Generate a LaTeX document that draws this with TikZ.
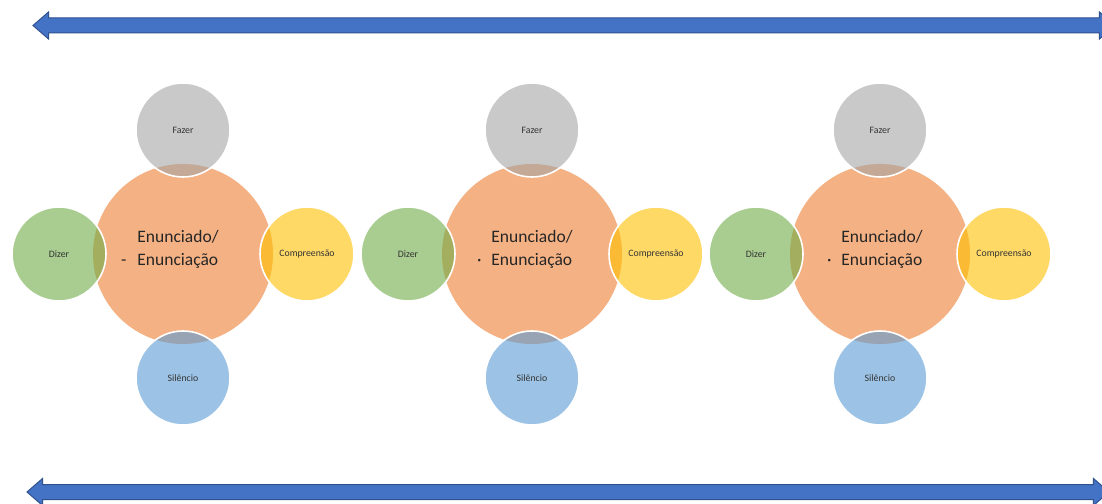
\documentclass[tikz,border=0pt]{standalone}
\usepackage{fontspec}
\setmainfont{Carlito}
\usepackage{tikz}
\usetikzlibrary{arrows.meta,shapes.arrows,positioning}
\definecolor{coreorange}{HTML}{F4B183}
\definecolor{fazergray}{HTML}{A5A5A5}
\definecolor{dizergreen}{HTML}{70AD47}
\definecolor{compyellow}{HTML}{FFC000}
\definecolor{silblue}{HTML}{5B9BD5}
\definecolor{barblue}{HTML}{4472C4}
\definecolor{baredge}{HTML}{2F528F}
\tikzset{
    core/.style={circle, fill=coreorange, minimum size=180pt, inner sep=0pt},
    sat/.style={circle, draw=white, line width=1.6pt, fill opacity=0.6, text opacity=1, minimum size=94pt, inner sep=0pt, text=black!80, font=\fontsize{9.8}{11}\selectfont},
    coretext/.style={align=left, text=black!85, font=\fontsize{17.5}{23}\selectfont},
    timeline/.style={double arrow, draw=baredge, line width=1pt, fill=barblue, inner xsep=0pt, inner ysep=7pt, double arrow head extend=6pt, double arrow tip angle=82, minimum height=1082pt}
}

\begin{document}
\begin{tikzpicture}[x=1pt, y=1pt, node distance=124pt, on grid]
    \fill[white] (0,0) rectangle (1102,503);
    \useasboundingbox (0,0) rectangle (1102,503);
    % top and bottom arrows
    \node[timeline] (topbar) at (574,477.5) {};
    \node[timeline] (bottombar) at (568,11) {};
    % first group
    \node[core, label={[coretext, xshift=-5pt, yshift=5pt]center:{Enunciado/\\\llap{-\hspace{11pt}}Enunciação}}] (core1) at (183,249) {};
    \node[sat, fill=fazergray, above=of core1] (fazer1) {Fazer};
    \node[sat, fill=dizergreen, left=of core1] (dizer1) {Dizer};
    \node[sat, fill=compyellow, right=of core1] (comp1) {Compreensão};
    \node[sat, fill=silblue, below=of core1] (sil1) {Silêncio};
    % second group
    \node[core, label={[coretext, yshift=5pt]center:{Enunciado/\\\llap{·\hspace{10pt}}Enunciação}}] (core2) at (532,249) {};
    \node[sat, fill=fazergray, above=of core2] (fazer2) {Fazer};
    \node[sat, fill=dizergreen, left=of core2] (dizer2) {Dizer};
    \node[sat, fill=compyellow, right=of core2] (comp2) {Compreensão};
    \node[sat, fill=silblue, below=of core2] (sil2) {Silêncio};
    % third group
    \node[core, label={[coretext, xshift=2pt, yshift=5pt]center:{Enunciado/\\\llap{·\hspace{10pt}}Enunciação}}] (core3) at (880,249) {};
    \node[sat, fill=fazergray, above=of core3] (fazer3) {Fazer};
    \node[sat, fill=dizergreen, left=of core3] (dizer3) {Dizer};
    \node[sat, fill=compyellow, right=of core3] (comp3) {Compreensão};
    \node[sat, fill=silblue, below=of core3] (sil3) {Silêncio};
\end{tikzpicture}
\end{document}
